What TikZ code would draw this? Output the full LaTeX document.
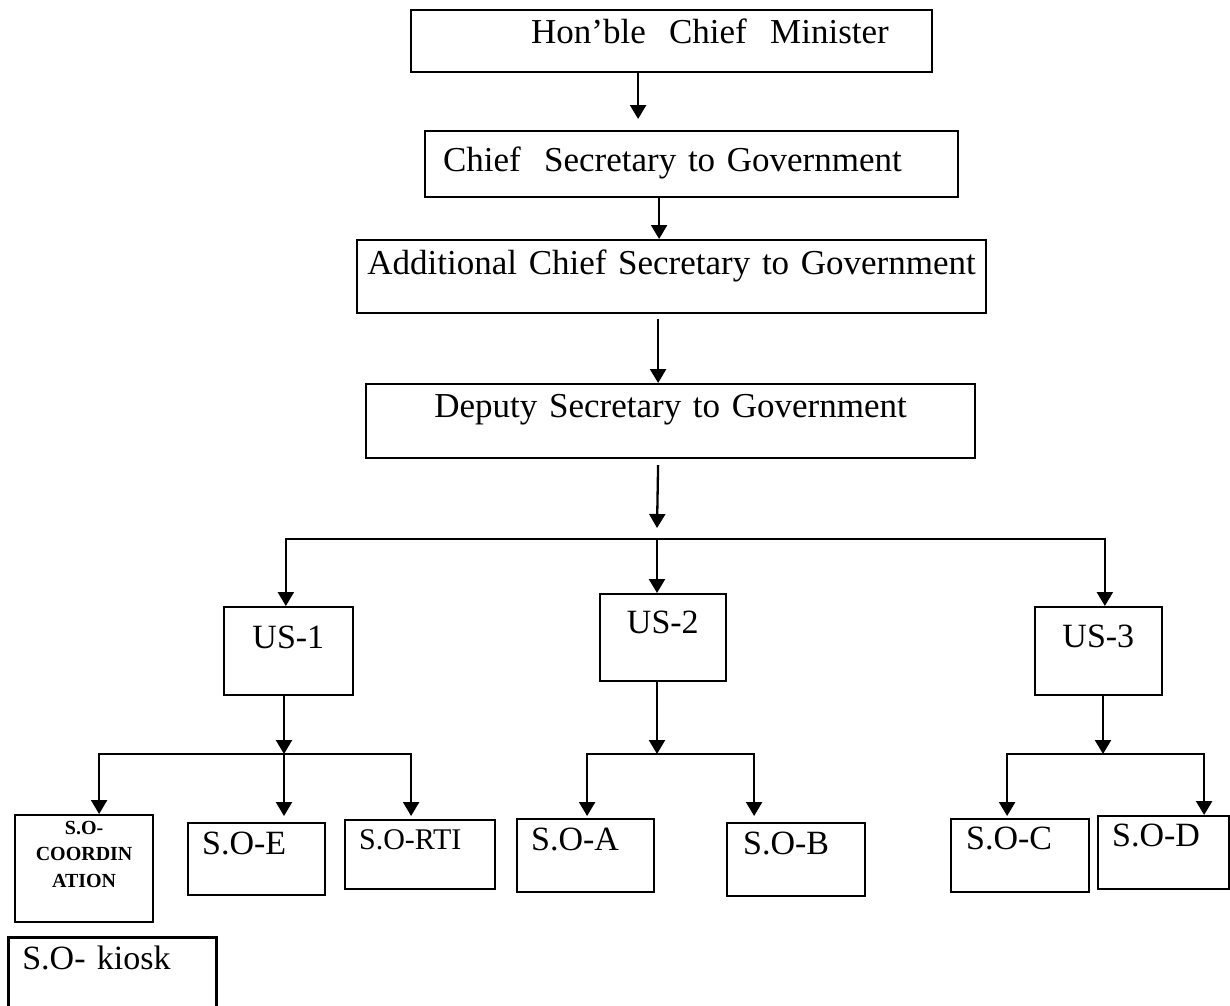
\documentclass[tikz,border=0pt]{standalone}
\usepackage{fontspec}
\setmainfont{Liberation Serif}
\usetikzlibrary{arrows.meta}

\newcommand\toptxt{\fontsize{35pt}{42pt}\selectfont}
\newcommand\lowtxt{\fontsize{34pt}{40pt}\selectfont}
\newcommand\rtitxt{\fontsize{30pt}{36pt}\selectfont}
\newcommand\cordtxt{\fontsize{20pt}{26.5pt}\selectfont\bfseries}

\begin{document}
\begin{tikzpicture}[x=1pt,y=-1pt,
          box/.style={draw,line width=2.2pt,inner sep=0pt,anchor=north west},
          sz/.style n args={3}{text width=#1pt,text height=#2pt,text depth=#3pt},
          arr/.style={line width=2.3pt,-{Triangle[width=16pt,length=14pt]}},
          line/.style={line width=2.3pt}]

                \useasboundingbox (0,0) rectangle (1230,1005);

                \node[box,sz={521}{33}{29},align=left,font=\toptxt] (hcm) at (410,9) {\hspace*{120pt}Hon’ble\ \ Chief\ \ Minister};
                \node[box,sz={533}{40}{26},align=left,font=\toptxt] (cs) at (424,130) {\hspace*{18pt}Chief\ \ Secretary to Government};
                \node[box,sz={629}{34}{39},align=center,font=\toptxt] (acs) at (356,239) {Additional Chief Secretary to Government};
                \node[box,sz={609}{33}{41},align=center,font=\toptxt] (ds) at (365,383) {Deputy Secretary to Government};

                \node[box,line width=1.7pt,sz={129}{42}{46},align=center,font=\lowtxt] (us1) at (223,606) {US-1};
                \node[box,line width=1.7pt,sz={126}{40}{47},align=center,font=\lowtxt] (us2) at (599,593) {US-2};
                \node[box,line width=1.7pt,sz={127}{41}{47},align=center,font=\lowtxt] (us3) at (1034,606) {US-3};

                \node[box,sz={138}{19}{88},align=center,font=\cordtxt] (cord) at (14,814) {S.O-\\COORDIN\\ATION};
                \node[box,sz={137}{31}{41},align=left,font=\lowtxt] (soe) at (187,822) {\hspace*{14pt}S.O-E};
                \node[box,sz={150}{29}{40},align=left,font=\rtitxt] (rti) at (344,819) {\hspace*{14pt}S.O-RTI};
                \node[box,sz={137}{31}{42},align=left,font=\lowtxt] (soa) at (516,818) {\hspace*{14pt}S.O-A};
                \node[box,sz={138}{31}{42},align=left,font=\lowtxt] (sob) at (726,822) {\hspace*{16pt}S.O-B};
                \node[box,sz={138}{30}{43},align=left,font=\lowtxt] (soc) at (950,818) {\hspace*{15pt}S.O-C};
                \node[box,sz={131}{30}{43},align=left,font=\lowtxt] (sod) at (1097,815) {\hspace*{14pt}S.O-D};
                \node[box,line width=2.6pt,sz={208}{32}{50},align=left,font=\lowtxt] (kiosk) at (7,936) {\hspace*{14pt}S.O- kiosk};

                \coordinate (j0) at (657,539);
                \coordinate (k1) at (284,754);
                \coordinate (k2) at (657,754);
                \coordinate (k3) at (1103,754);

                \draw[arr] ([xshift=-33.5pt,yshift=2pt]hcm.south) -- ([xshift=-53.5pt,yshift=11pt]cs.north);
                \draw[arr] ([xshift=-32.5pt]cs.south) -- ([xshift=-12.5pt]acs.north);
                \draw[arr] ([xshift=-13.5pt,yshift=-5pt]acs.south) -- ([xshift=-12.5pt]ds.north);
                \draw[arr] ([xshift=-12.5pt,yshift=-6pt]ds.south) -- ([yshift=11pt]j0);

                \draw[arr] (j0) -| ([xshift=-2.5pt]us1.north);
                \draw[arr] (j0) -- (j0 |- us2.north);
                \draw[arr] (j0) -| ([xshift=6.5pt]us3.north);

                \draw[arr] (us1.south -| k1) -- (k1);
                \draw[arr] (k1) -| ([xshift=15pt]cord.north);
                \draw[arr,shorten >=6pt] (k1) -- (k1 |- soe.north);
                \draw[arr,shorten >=3pt] (k1) -| ([xshift=-9pt]rti.north);

                \draw[arr] (us2.south -| k2) -- (k2);
                \draw[arr,shorten >=2pt] (k2) -| ([xshift=1.5pt]soa.north);
                \draw[arr,shorten >=6pt] (k2) -| ([xshift=-42pt]sob.north);

                \draw[arr] (us3.south -| k3) -- (k3);
                \draw[arr,shorten >=2pt] (k3) -| ([xshift=-13pt]soc.north);
                \draw[arr] (k3) -| ([xshift=40.5pt]sod.north);
              \end{tikzpicture}
\end{document}
